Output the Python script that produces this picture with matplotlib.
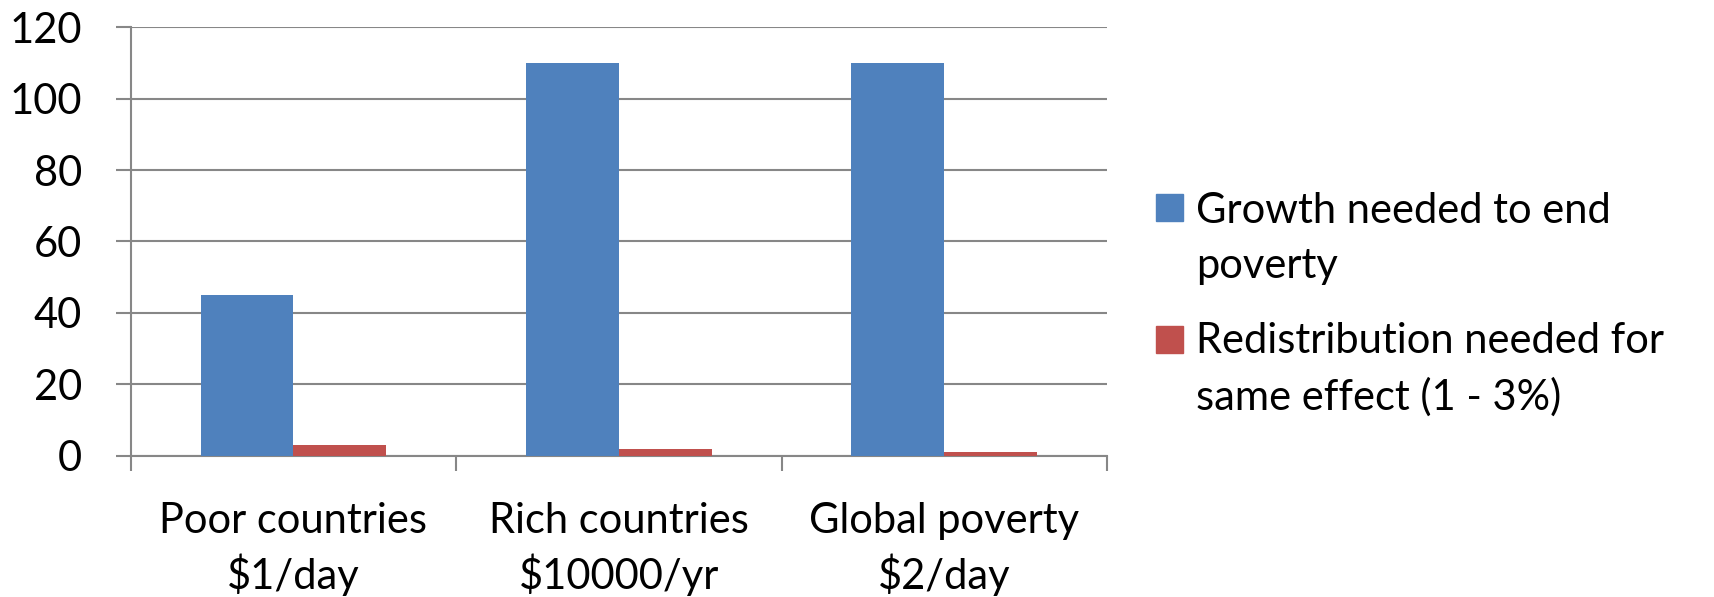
import matplotlib.pyplot as plt
import matplotlib.patches as mpatches
import numpy as np

categories = ["Poor countries\n$1/day", "Rich countries\n$10000/yr", "Global poverty\n$2/day"]
growth = [45, 110, 110]
redistribution = [3, 2, 1]
series_labels = ["Growth needed to end\npoverty", "Redistribution needed for\nsame effect (1 - 3%)"]
series_colors = ['#4F81BD', '#C0504D']
yticks = [0, 20, 40, 60, 80, 100, 120]

plt.rcParams['font.family'] = ['Lato', 'DejaVu Sans']
FS = 30

fig = plt.figure(figsize=(17.14, 5.97), dpi=100)
ax = fig.add_axes([0.0763, 0.2367, 0.5696, 0.7176])

x = np.arange(len(categories))
w = 1 / 3.5
ax.bar(x - w / 2, growth, w, color=series_colors[0], zorder=3)
ax.bar(x + w / 2, redistribution, w, color=series_colors[1], zorder=3)

ax.set_xlim(-0.5, 2.5)
ax.set_ylim(0, 120)
ax.set_yticks(yticks)
ax.set_xticks(x)
ax.set_xticklabels(categories, fontsize=FS, linespacing=1.4)
ax.set_xticks(np.arange(-0.5, 3, 1), minor=True)
ax.tick_params(axis='x', which='major', length=0, pad=33)
ax.tick_params(axis='x', which='minor', length=11, width=1.5, color='#878787')
ax.tick_params(axis='y', labelsize=FS, length=11, width=1.5, color='#878787', pad=24)

ax.yaxis.grid(True, color='#878787', linewidth=1.5, zorder=0)
for s in ['top', 'right']:
    ax.spines[s].set_visible(False)
for s in ['left', 'bottom']:
    ax.spines[s].set_color('#878787')
    ax.spines[s].set_linewidth(1.5)

# legend: square aligned with first line of each wrapped label
square_y = [0.6298, 0.4092]
text_y = [0.5338, 0.3132]  # baseline of the last line
for lab, col, ys, yt in zip(series_labels, series_colors, square_y, text_y):
    fig.add_artist(mpatches.Rectangle((0.6744, ys), 0.01575, 0.0452,
                                      transform=fig.transFigure, color=col))
    fig.text(0.6978, yt, lab, fontsize=FS, va='baseline', ha='left', linespacing=1.55)

fig.savefig('out.png', dpi=100)
